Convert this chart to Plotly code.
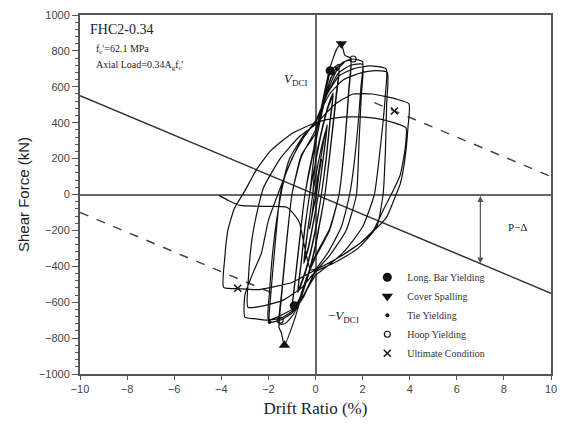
import plotly.graph_objects as go

# ---------------- data (drift ratio %, shear force kN) ----------------
drift_c025 = [0, 0.12, 0.25, 0.15, 0.04, -0.12, -0.25, -0.15, -0.04, 0.12, 0.25, 0.15, 0.04, -0.12, -0.25, -0.15, -0.04]
force_c025 = [0, 100, 195, 120, 0, -100, -190, -115, 0, 95, 190, 115, 0, -95, -185, -110, 0]

drift_c050 = [0.15, 0.35, 0.5, 0.38, 0.12, -0.05, -0.3, -0.5, -0.38, -0.12, 0.05, 0.3, 0.5, 0.38, 0.12, -0.05, -0.3, -0.5, -0.38, -0.12]
force_c050 = [140, 300, 390, 260, 0, -130, -300, -385, -255, 0, 130, 290, 380, 250, 0, -125, -290, -375, -245, 0]

drift_c075 = [0.0, 0.3, 0.55, 0.75, 0.62, 0.45, 0.25, 0.0, -0.35, -0.6, -0.75, -0.62, -0.45, -0.25,
              0.0, 0.3, 0.55, 0.75, 0.62, 0.45, 0.25, 0.0, -0.35, -0.6, -0.75, -0.62, -0.45, -0.25]
force_c075 = [190, 380, 500, 565, 420, 200, 0, -200, -400, -500, -545, -400, -190, 0,
              180, 370, 490, 550, 405, 190, 0, -190, -390, -490, -530, -390, -180, 0]

drift_c100 = [0.0, 0.3, 0.65, 1.0, 0.88, 0.65, 0.4, 0.1, 0.0, -0.35, -0.7, -1.0, -0.88, -0.65, -0.45, -0.1,
              0.0, 0.3, 0.65, 1.0, 0.88, 0.65, 0.4, 0.1, 0.0, -0.35, -0.7, -1.0, -0.88, -0.65, -0.45, -0.1]
force_c100 = [280, 480, 690, 725, 560, 280, 0, -220, -290, -470, -600, -660, -500, -230, 0, 240,
              290, 470, 650, 700, 540, 270, 0, -210, -280, -460, -585, -645, -490, -220, 0, 230]

drift_c150 = [0.0, 0.3, 0.6, 0.9, 1.1, 1.25, 1.5, 1.42, 1.25, 1.0, 0.6, 0.0, -0.4, -0.9, -1.32, -1.45, -1.55,
              -1.45, -1.25, -1.0, -0.6, 0.0, 0.35, 0.8, 1.2, 1.5, 1.42, 1.25, 1.0, 0.6, 0.0, -0.4, -0.9,
              -1.3, -1.55, -1.45, -1.25, -1.0, -0.6]
force_c150 = [320, 520, 700, 810, 840, 775, 760, 600, 300, 0, -200, -350, -480, -700, -840, -770, -740,
              -580, -300, 0, 220, 340, 530, 690, 740, 745, 580, 290, 0, -190, -340, -470, -660,
              -720, -720, -560, -290, 0, 210]

drift_c200 = [0.0, 0.4, 0.9, 1.3, 1.6, 2.0, 1.93, 1.8, 1.62, 1.45, 1.1, 0.5, 0.0, -0.5, -1.0, -1.5, -1.95,
              -1.9, -1.75, -1.5, -1.1, -0.5,
              0.0, 0.5, 1.0, 1.5, 2.0, 1.95, 1.85, 1.74, 1.3, 0.6, 0.0, -0.5, -1.0, -1.5, -2.0,
              -1.95, -1.8, -1.6, -1.3, -0.7]
force_c200 = [360, 540, 690, 745, 755, 740, 600, 380, 150, 0, -180, -330, -420, -570, -660, -700, -710,
              -560, -330, 0, 200, 330,
              400, 560, 680, 720, 725, 560, 300, 0, -200, -340, -430, -560, -650, -690, -695,
              -540, -300, -100, 100, 280]

drift_c300 = [0.0, 0.5, 1.0, 1.6, 2.3, 3.0, 2.97, 2.85, 2.7, 2.5, 2.0, 1.2, 0.4, 0.0, -0.5, -1.0, -2.0,
              -2.6, -3.0, -3.0, -2.6, -2.3, -2.0, -1.6, -1.0, -0.4,
              0.0, 0.6, 1.2, 2.0, 2.6, 3.05, 3.02, 2.97, 2.87, 2.6, 1.8, 0.8, 0.0, -0.6, -1.4, -2.2,
              -2.87, -2.85, -2.7, -2.45, -2.2, -1.5, -0.7]
force_c300 = [410, 560, 660, 700, 717, 700, 560, 380, 200, 0, -180, -320, -410, -450, -560, -640, -700,
              -692, -683, -560, -420, -328, -144, 0, 200, 340,
              410, 560, 640, 680, 690, 680, 500, 250, 0, -180, -300, -380, -430, -520, -590, -620,
              -628, -470, -250, -80, 40, 200, 320]

drift_c400 = [0.0, 0.8, 1.6, 2.4, 3.0, 3.4, 3.97, 3.93, 3.8, 3.6, 3.42, 3.0, 2.0, 1.0, 0.0, -1.0, -1.8,
              -2.4, -3.2, -3.9, -3.85, -3.72, -3.45, -3.0, -2.5, -1.9, -1.0, 0.0, 0.8, 1.5, 2.5, 3.2,
              3.84, 3.8, 3.6, 3.3, 2.9, 2.45, 1.8, 1.0, 0.3, -0.2, -0.45, -0.7, -1.2, -2.2, -3.2,
              -3.7, -4.1]
force_c400 = [390, 500, 560, 560, 545, 533, 505, 380, 200, 60, 0, -130, -260, -350, -420, -490, -515,
              -530, -525, -517, -350, -200, -80, 20, 140, 244, 340, 400, 425, 432, 425, 405,
              372, 250, 110, 22, -80, -200, -280, -350, -400, -420, -300, -150, -72, -66, -61,
              -33, -5]

# key events
long_bar_drift = [0.62, -0.9]
long_bar_force = [690, -620]
cover_drift = [1.1, -1.32]
cover_force = [840, -840]
tie_drift = [-1.95, 0.9]
tie_force = [-710, 700]
hoop_drift = [1.6, -1.5]
hoop_force = [755, -700]
ult_drift = [3.35, -3.3]
ult_force = [465, -522]

# P-Delta and V_DCI lines (drift %, kN)
pdelta_drift = [-10, 10]
pdelta_force = [550, -550]
vdci_pos_drift = [2.5, 10]
vdci_pos_force = [512, 100]
vdci_neg_drift = [-10, -1.6]
vdci_neg_force = [-100, -562]

drift_all = drift_c025 + drift_c050 + drift_c075 + drift_c100 + drift_c150 + drift_c200 + drift_c300 + drift_c400
force_all = force_c025 + force_c050 + force_c075 + force_c100 + force_c150 + force_c200 + force_c300 + force_c400

SERIF = "Liberation Serif, Times New Roman, serif"
SANS = "Liberation Sans, Arial, sans-serif"
INK = "#222222"

fig = go.Figure()

fig.add_trace(go.Scatter(x=pdelta_drift, y=pdelta_force, mode="lines",
                         line=dict(color="#333333", width=1.5), showlegend=False, hoverinfo="skip"))
fig.add_trace(go.Scatter(x=vdci_pos_drift, y=vdci_pos_force, mode="lines",
                         line=dict(color="#444444", width=1.5, dash="dash"), showlegend=False))
fig.add_trace(go.Scatter(x=vdci_neg_drift, y=vdci_neg_force, mode="lines",
                         line=dict(color="#444444", width=1.5, dash="dash"), showlegend=False))

fig.add_trace(go.Scatter(x=drift_all, y=force_all, mode="lines",
                         line=dict(color="#111111", width=1.2, shape="spline", smoothing=0.5),
                         showlegend=False))

fig.add_trace(go.Scatter(x=long_bar_drift, y=long_bar_force, mode="markers", name="Long. Bar Yielding",
                         marker=dict(symbol="circle", size=9, color="#111111")))
fig.add_trace(go.Scatter(x=cover_drift, y=cover_force, mode="markers", name="Cover Spalling",
                         marker=dict(symbol=["triangle-down", "triangle-up"], size=10, color="#111111")))
fig.add_trace(go.Scatter(x=tie_drift, y=tie_force, mode="markers", name="Tie Yielding",
                         marker=dict(symbol="circle", size=4, color="#111111")))
fig.add_trace(go.Scatter(x=hoop_drift, y=hoop_force, mode="markers", name="Hoop Yielding",
                         marker=dict(symbol="circle-open", size=6, color="#111111", line=dict(width=1.1))))
fig.add_trace(go.Scatter(x=ult_drift, y=ult_force, mode="markers", name="Ultimate Condition",
                         marker=dict(symbol="x-thin-open", size=7, color="#111111", line=dict(width=1.5))))

annotations = [
    dict(x=-9.66, y=922, text="FHC2-0.34", font=dict(family=SERIF, size=14, color=INK)),
    dict(x=-9.4, y=810, text="f<sub>c</sub>'=62.1 MPa", font=dict(family=SERIF, size=10, color=INK)),
    dict(x=-9.4, y=717, text="Axial Load=0.34A<sub>g</sub>f<sub>c</sub>'", font=dict(family=SERIF, size=10, color=INK)),
    dict(x=8.1, y=-180, text="P\u2212\u0394", font=dict(family=SERIF, size=11, color=INK)),
]
for a in annotations:
    a.update(xref="x", yref="y", showarrow=False, xanchor="left", yanchor="middle")

annotations.append(dict(x=-0.25, y=640, xref="x", yref="y", showarrow=False, xanchor="right", yanchor="middle",
                        text="<i>V</i><sub>DCI</sub>", font=dict(family=SERIF, size=13, color=INK)))
annotations.append(dict(x=0.45, y=-680, xref="x", yref="y", showarrow=False, xanchor="left", yanchor="middle",
                        text="\u2212<i>V</i><sub>DCI</sub>", font=dict(family=SERIF, size=13, color=INK)))
annotations.append(dict(x=7, y=-385, ax=7, ay=0, xref="x", yref="y", axref="x", ayref="y", text="",
                        showarrow=True, arrowhead=2, arrowsize=1, arrowwidth=1.2, arrowcolor="#555555",
                        arrowside="end+start"))

fig.update_layout(
    width=566, height=428,
    margin=dict(l=80, r=9, t=14, b=54),
    paper_bgcolor="white", plot_bgcolor="white",
    annotations=annotations,
    legend=dict(x=0.61, y=0.31, xanchor="left", yanchor="top", bgcolor="rgba(0,0,0,0)",
                font=dict(family=SERIF, size=10, color="#333333"), itemwidth=30, tracegroupgap=0),
)

fig.update_xaxes(range=[-10, 10], dtick=2, tick0=-10, showgrid=False,
                 zeroline=True, zerolinecolor="#666666", zerolinewidth=1.5,
                 showline=True, linecolor="#555555", linewidth=2, mirror=True,
                 ticks="outside", ticklen=4, tickcolor="#555555",
                 tickfont=dict(family=SANS, size=11, color="#444444"),
                 title=dict(text="Drift Ratio (%)", font=dict(family=SERIF, size=17, color=INK), standoff=8))
fig.update_yaxes(range=[-1000, 1000], dtick=200, showgrid=False,
                 zeroline=True, zerolinecolor="#666666", zerolinewidth=1.5,
                 showline=True, linecolor="#555555", linewidth=2, mirror=True,
                 ticks="outside", ticklen=6, tickcolor="#555555",
                 minor=dict(dtick=40, ticks="outside", ticklen=3, tickcolor="#555555"),
                 tickfont=dict(family=SANS, size=11, color="#444444"),
                 title=dict(text="Shear Force (kN)", font=dict(family=SANS, size=15, color=INK), standoff=6))

fig.write_html("out.html")
